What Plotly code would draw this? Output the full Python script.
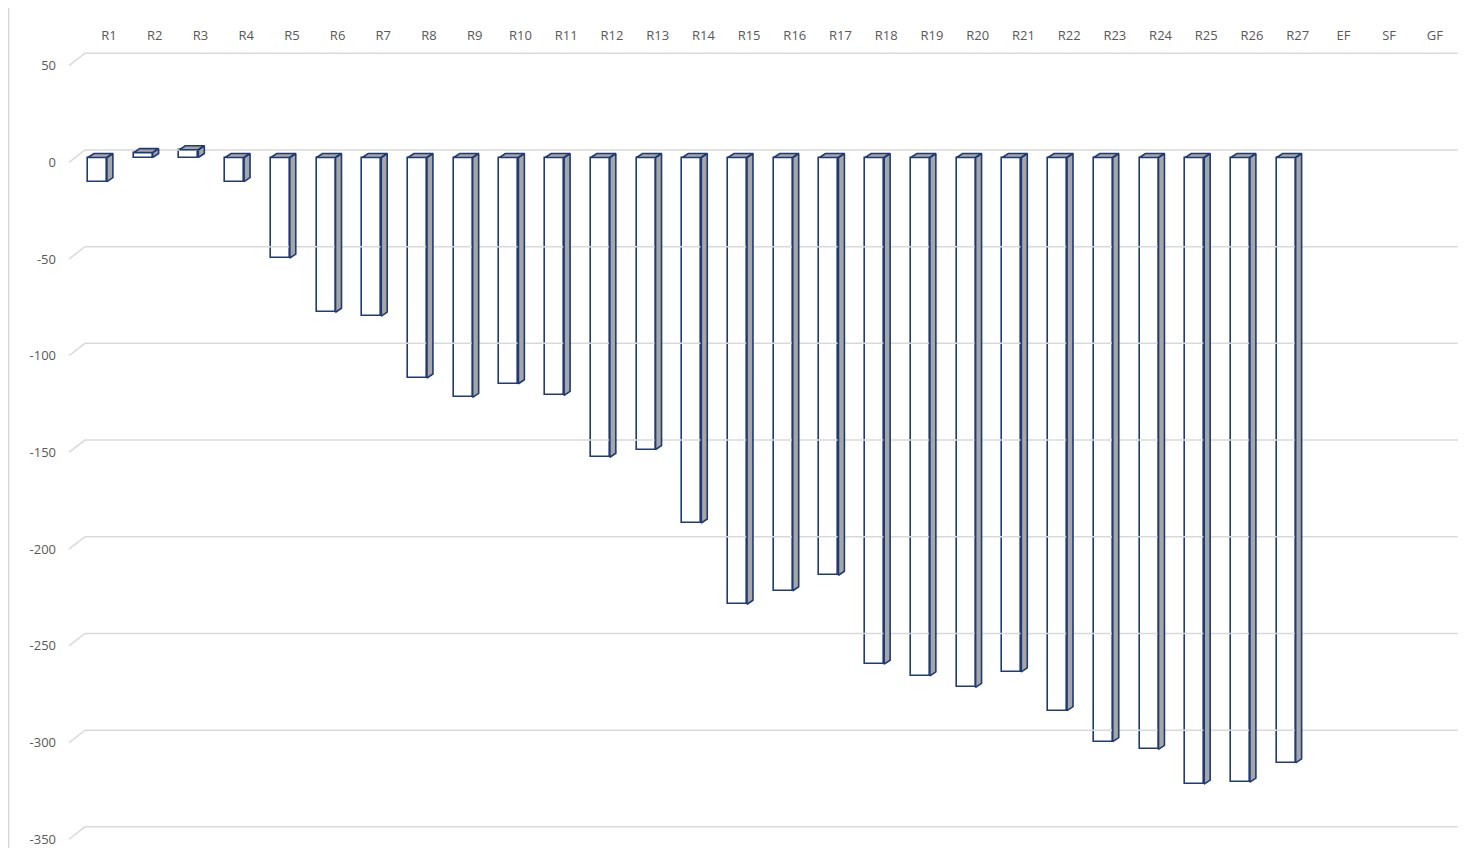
import plotly.graph_objects as go

# categories and values
categories = ["R1", "R2", "R3", "R4", "R5", "R6", "R7", "R8", "R9", "R10",
              "R11", "R12", "R13", "R14", "R15", "R16", "R17", "R18", "R19", "R20",
              "R21", "R22", "R23", "R24", "R25", "R26", "R27", "EF", "SF", "GF"]
values = [-12.5, 2.5, 4, -12.5, -52, -80, -82, -114, -124, -117,
          -123, -155, -151, -189, -231, -224, -216, -262, -268, -274,
          -266, -286, -302, -306, -324, -323, -313, None, None, None]
y_ticks = [50, 0, -50, -100, -150, -200, -250, -300, -350]

# 3D look: depth offsets in data units
DX = 0.13        # side face width
DY = 2.07        # side face rise
FACE_L = -0.46   # front face left edge relative to category
FACE_R = -0.045  # front face right edge
LABEL_DY = -2.5  # front edge of floor lines
BACK_DY = 3.9    # back wall
GRID_X0, GRID_X1, GRID_X2 = -0.875, -0.525, 29.5

NAVY = "#1f3a75"
GREY = "#a6a6a6"
GRID = "#d9d9d9"
TXT = "#595959"

fig = go.Figure()

# back wall gridlines with perspective stub on the left
gx, gy = [], []
for t in y_ticks:
    gx += [GRID_X0, GRID_X1, GRID_X2, None]
    gy += [t + LABEL_DY, t + BACK_DY, t + BACK_DY, None]
fig.add_trace(go.Scatter(x=gx, y=gy, mode="lines",
                         line=dict(color=GRID, width=1.5),
                         hoverinfo="skip", showlegend=False))

idx = [i for i, v in enumerate(values) if v is not None]
vals = [values[i] for i in idx]

# front faces
fig.add_trace(go.Bar(x=idx, y=vals, base=0, width=FACE_R - FACE_L, offset=FACE_L,
                     marker=dict(color="white", line=dict(color=NAVY, width=1.6)),
                     showlegend=False))

# side and top faces
px_, py_ = [], []
for i, v in zip(idx, vals):
    xl, xr = i + FACE_L, i + FACE_R
    px_ += [xr, xr + DX, xr + DX, xr, xr, None]
    py_ += [0, DY, v + DY, v, 0, None]
    top = max(v, 0)
    px_ += [xl, xl + DX, xr + DX, xr, xl, None]
    py_ += [top, top + DY, top + DY, top, top, None]
fig.add_trace(go.Scatter(x=px_, y=py_, mode="lines", fill="toself",
                         fillcolor=GREY, line=dict(color=NAVY, width=1.6),
                         hoverinfo="skip", showlegend=False))

# page body has an 8px margin, so the figure is a bit smaller than the window
fig.update_layout(
    width=1471, height=840,
    margin=dict(l=54, r=0, t=40, b=0),
    paper_bgcolor="white", plot_bgcolor="white",
    font=dict(family="Open Sans, sans-serif", size=13, color=TXT),
    bargap=0,
    xaxis=dict(range=[-1.028, 29.965], side="top", showgrid=False, zeroline=False,
               showline=False, tickmode="array", tickvals=list(range(len(categories))),
               ticktext=categories, ticks="", ticklabelstandoff=4,
               tickfont=dict(size=13, color=TXT)),
    yaxis=dict(range=[-357.03, 56.62], showgrid=False, zeroline=False, showline=False,
               tickmode="array", tickvals=[t + LABEL_DY for t in y_ticks],
               ticktext=[str(t) for t in y_ticks], ticks="", ticklabelstandoff=5,
               tickfont=dict(size=13, color=TXT)),
    shapes=[dict(type="line", xref="paper", yref="paper",
                 x0=-0.0376, x1=-0.0376, y0=-0.01, y1=1.06,
                 line=dict(color=GRID, width=1.5))],
)

fig.write_html("out.html")
